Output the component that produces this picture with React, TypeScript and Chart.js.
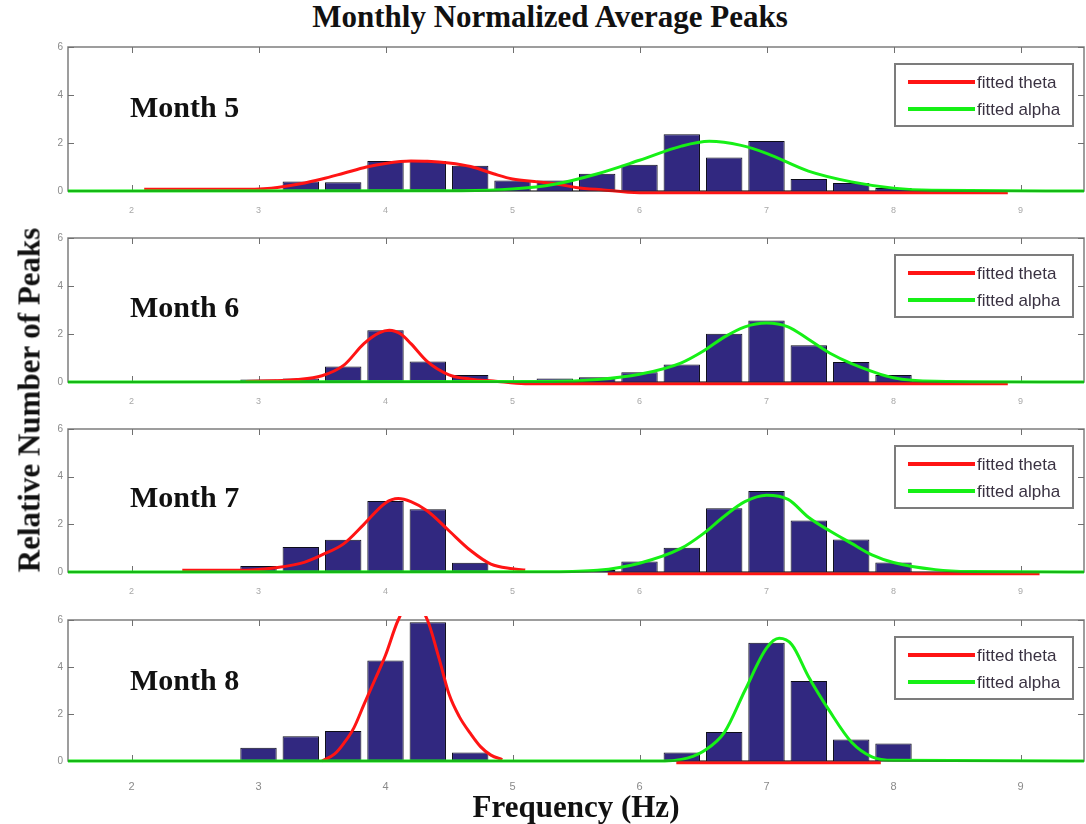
import React, { useEffect, useRef } from "react";
import { Chart, registerables } from "chart.js";

Chart.register(...registerables);

// ---------------- data ----------------
const binCenters = [3.0, 3.333, 3.667, 4.0, 4.333, 4.667, 5.0, 5.333, 5.667, 6.0, 6.333, 6.667, 7.0, 7.333, 7.667, 8.0];

const month5Bars = [0.05, 0.4, 0.36, 1.25, 1.25, 1.05, 0.44, 0.44, 0.72, 1.09, 2.36, 1.4, 2.08, 0.5, 0.33, 0.12];
const month6Bars = [0.1, 0.15, 0.65, 2.16, 0.85, 0.29, 0.05, 0.15, 0.2, 0.41, 0.73, 2.01, 2.56, 1.53, 0.83, 0.29];
const month7Bars = [0.25, 1.05, 1.35, 2.98, 2.63, 0.39, 0, 0, 0.08, 0.44, 1.02, 2.67, 3.4, 2.16, 1.36, 0.4];
const month8Bars = [0.56, 1.05, 1.28, 4.28, 5.9, 0.36, 0, 0, 0, 0, 0.36, 1.23, 5.03, 3.4, 0.91, 0.74];

const theta5X = [2.1, 2.8, 3.1, 3.33, 3.5, 3.67, 3.85, 4.0, 4.2, 4.33, 4.5, 4.67, 4.85, 5.0, 5.2, 5.37, 5.5, 5.7, 6.0, 7.0, 8.9];
const theta5Y = [0.07, 0.07, 0.12, 0.3, 0.5, 0.74, 1.0, 1.15, 1.25, 1.24, 1.17, 1.02, 0.72, 0.5, 0.38, 0.27, 0.15, 0.05, -0.07, -0.07, -0.07];
const alpha5X = [1.5, 4.6, 5.0, 5.33, 5.67, 6.0, 6.33, 6.55, 6.8, 7.0, 7.33, 7.67, 8.0, 8.3, 9.5];
const alpha5Y = [0, 0.01, 0.08, 0.28, 0.72, 1.28, 1.87, 2.07, 1.9, 1.57, 0.83, 0.38, 0.12, 0.03, 0];

const theta6X = [2.9, 3.3, 3.5, 3.67, 3.83, 3.95, 4.03, 4.12, 4.2, 4.33, 4.5, 4.67, 4.85, 5.1, 8.9];
const theta6Y = [0.02, 0.1, 0.26, 0.69, 1.6, 2.05, 2.16, 2.0, 1.6, 0.85, 0.3, 0.12, 0.04, -0.07, -0.07];
const alpha6X = [1.5, 5.3, 5.67, 6.0, 6.33, 6.5, 6.67, 6.83, 7.0, 7.17, 7.33, 7.5, 7.67, 8.0, 8.33, 9.5];
const alpha6Y = [0, 0.02, 0.1, 0.32, 0.8, 1.28, 1.88, 2.3, 2.46, 2.3, 1.78, 1.2, 0.77, 0.18, 0.03, 0];

const theta7X = [2.4, 2.9, 3.0, 3.33, 3.5, 3.67, 3.83, 4.0, 4.1, 4.2, 4.33, 4.5, 4.67, 4.83, 5.0, 5.1, 5.15, 5.75, 9.15];
const theta7Y = [0.07, 0.07, 0.1, 0.36, 0.72, 1.18, 2.0, 2.9, 3.08, 2.95, 2.56, 1.73, 0.9, 0.33, 0.14, 0.08, null, -0.07, -0.07];
const alpha7X = [1.5, 5.3, 5.67, 6.0, 6.33, 6.5, 6.67, 6.83, 7.0, 7.17, 7.33, 7.5, 7.67, 7.83, 8.0, 8.33, 8.6, 9.5];
const alpha7Y = [0, 0.01, 0.07, 0.37, 1.0, 1.6, 2.35, 2.95, 3.22, 3.05, 2.3, 1.72, 1.2, 0.72, 0.4, 0.1, 0.02, 0];

const theta8X = [3.5, 3.6, 3.67, 3.75, 3.83, 3.92, 4.0, 4.1, 4.21, 4.33, 4.42, 4.5, 4.58, 4.67, 4.75, 4.83, 4.92, 4.95, 6.29, 7.9];
const theta8Y = [0.0, 0.3, 0.74, 1.4, 2.4, 3.5, 4.5, 6.0, 6.9, 6.0, 4.4, 2.85, 1.9, 1.16, 0.6, 0.25, 0.06, null, -0.07, -0.07];
const alpha8X = [1.5, 6.2, 6.33, 6.42, 6.5, 6.67, 6.83, 7.0, 7.1, 7.2, 7.33, 7.5, 7.67, 7.83, 8.0, 9.5];
const alpha8Y = [0, 0, 0.07, 0.2, 0.4, 1.23, 3.0, 4.8, 5.22, 4.95, 3.6, 2.1, 0.8, 0.18, 0.03, 0];

const xTickValues = [2, 3, 4, 5, 6, 7, 8, 9];
const yTickValues = [0, 2, 4, 6];
const legendLabels = ["fitted theta", "fitted alpha"];
const monthLabels = ["Month 5", "Month 6", "Month 7", "Month 8"];
const chartTitle = "Monthly Normalized Average Peaks";
const xAxisTitle = "Frequency (Hz)";
const yAxisTitle = "Relative Number of Peaks";

// ---------------- layout / style ----------------
const panelTops = [46, 237, 428, 619];
const panelHeights = [145, 145, 144, 142];
const monthLabelTops = [92, 292, 482, 665];
const PAD_TOP = 10;
const X_AXIS_H = 36;
const Y_AXIS_W = 68;
const BAR_COLOR = "#312880";
const RED = "#ff1414";
const GREEN = "#16f016";
const SERIF = '"Liberation Serif", "Times New Roman", serif';
const SANS = '"Liberation Sans", Arial, sans-serif';

const panels = [
  { bars: month5Bars, tx: theta5X, ty: theta5Y, ax: alpha5X, ay: alpha5Y },
  { bars: month6Bars, tx: theta6X, ty: theta6Y, ax: alpha6X, ay: alpha6Y },
  { bars: month7Bars, tx: theta7X, ty: theta7Y, ax: alpha7X, ay: alpha7Y },
  { bars: month8Bars, tx: theta8X, ty: theta8Y, ax: alpha8X, ay: alpha8Y },
];

const toPoints = (xs: number[], ys: (number | null)[]) => xs.map((x, i) => ({ x, y: ys[i] }));

const matlabPlugin = {
  id: "matlabFrame",
  beforeDatasetsDraw(chart: any) {
    const { ctx, chartArea: a, scales } = chart;
    ctx.save();
    ctx.strokeStyle = "#7e7e7e";
    ctx.lineWidth = 1.5;
    ctx.strokeRect(a.left, a.top, a.right - a.left, a.bottom - a.top);
    ctx.strokeStyle = "#707070";
    ctx.lineWidth = 1;
    const seg = (x1: number, y1: number, x2: number, y2: number) => {
      ctx.beginPath();
      ctx.moveTo(x1, y1);
      ctx.lineTo(x2, y2);
      ctx.stroke();
    };
    scales.x.ticks.forEach((t: any) => {
      const px = Math.round(scales.x.getPixelForValue(t.value)) + 0.5;
      seg(px, a.bottom, px, a.bottom - 6);
      seg(px, a.top, px, a.top + 6);
    });
    scales.y.ticks.forEach((t: any) => {
      const py = Math.round(scales.y.getPixelForValue(t.value)) + 0.5;
      seg(a.left, py, a.left + 6, py);
      seg(a.right, py, a.right - 6, py);
    });
    ctx.restore();
  },
  afterDatasetsDraw(chart: any) {
    const { ctx, chartArea: a } = chart;
    // dark axis line over the baseline curves
    ctx.save();
    ctx.strokeStyle = "rgba(20,20,20,0.35)";
    ctx.lineWidth = 1.5;
    ctx.beginPath();
    ctx.moveTo(a.left, a.bottom);
    ctx.lineTo(a.right, a.bottom);
    ctx.stroke();
    ctx.restore();

    const w = 178;
    const h = 62;
    const x0 = a.right - 11 - w;
    const y0 = a.top + 17;
    ctx.save();
    ctx.fillStyle = "#ffffff";
    ctx.fillRect(x0, y0, w, h);
    ctx.strokeStyle = "#7c7c7c";
    ctx.lineWidth = 2;
    ctx.strokeRect(x0, y0, w, h);
    const items = chart.data.datasets.filter((d: any) => d.type === "line");
    items.forEach((d: any, i: number) => {
      const yy = y0 + 18 + i * 27;
      ctx.strokeStyle = d.borderColor;
      ctx.lineWidth = 4;
      ctx.beginPath();
      ctx.moveTo(x0 + 13, yy);
      ctx.lineTo(x0 + 80, yy);
      ctx.stroke();
      ctx.fillStyle = "#3a3242";
      ctx.font = `17px ${SANS}`;
      ctx.textBaseline = "middle";
      ctx.textAlign = "left";
      ctx.fillText(d.label, x0 + 82, yy + 1);
    });
    ctx.restore();
  },
};

function PanelChart({ index }: { index: number }) {
  const ref = useRef<HTMLCanvasElement>(null);
  const p = panels[index];
  const plotH = panelHeights[index];
  const canvasH = PAD_TOP + plotH + X_AXIS_H;
  const isLast = index === panels.length - 1;

  useEffect(() => {
    if (!ref.current) return;
    const chart = new Chart(ref.current, {
      type: "bar",
      data: {
        datasets: [
          {
            type: "bar",
            label: "peaks",
            data: binCenters.map((x, i) => ({ x, y: p.bars[i] })),
            backgroundColor: BAR_COLOR,
            borderColor: "#0c0c18",
            borderWidth: 1,
            barPercentage: 1,
            categoryPercentage: 0.86,
            order: 2,
          } as any,
          {
            type: "line",
            label: legendLabels[0],
            data: toPoints(p.tx, p.ty),
            borderColor: RED,
            borderWidth: 3,
            pointRadius: 0,
            cubicInterpolationMode: "monotone",
            spanGaps: false,
            clip: 4,
            order: 1,
          } as any,
          {
            type: "line",
            label: legendLabels[1],
            data: toPoints(p.ax, p.ay),
            borderColor: GREEN,
            borderWidth: 3,
            pointRadius: 0,
            cubicInterpolationMode: "monotone",
            clip: 4,
            order: 0,
          } as any,
        ],
      },
      options: {
        animation: false,
        responsive: false,
        devicePixelRatio: 1,
        layout: { padding: { top: PAD_TOP, right: 2, left: 0, bottom: 0 } },
        plugins: { legend: { display: false }, tooltip: { enabled: false } },
        scales: {
          x: {
            type: "linear",
            min: 1.5,
            max: 9.5,
            offset: false,
            grid: { display: false, drawTicks: false },
            border: { display: false },
            ticks: {
              autoSkip: false,
              maxRotation: 0,
              color: isLast ? "#8a8a8a" : "#a8a8a8",
              padding: isLast ? 19 : 14,
              font: { family: SANS, size: isLast ? 11 : 9 },
            },
            afterBuildTicks: (s: any) => {
              s.ticks = xTickValues.map((v) => ({ value: v }));
            },
            afterFit: (s: any) => {
              s.height = X_AXIS_H;
            },
          },
          y: {
            type: "linear",
            min: 0,
            max: 6,
            grid: { display: false, drawTicks: false },
            border: { display: false },
            ticks: { color: "#8a8a8a", padding: 5, font: { family: SANS, size: 10 } },
            afterBuildTicks: (s: any) => {
              s.ticks = yTickValues.map((v) => ({ value: v }));
            },
            afterFit: (s: any) => {
              s.width = Y_AXIS_W;
            },
          },
        },
      } as any,
      plugins: [matlabPlugin],
    });
    return () => chart.destroy();
  }, []);

  return (
    <canvas
      ref={ref}
      width={1086}
      height={canvasH}
      style={{
        position: "absolute",
        left: 0,
        top: panelTops[index] - PAD_TOP,
        width: 1086,
        height: canvasH,
        display: "block",
      }}
    />
  );
}

export default function App() {
  const bigText: React.CSSProperties = {
    position: "absolute",
    fontFamily: SERIF,
    fontWeight: "bold",
    color: "#111",
    whiteSpace: "nowrap",
    pointerEvents: "none",
  };
  return (
    <div
      style={{
        position: "absolute",
        left: 0,
        top: 0,
        width: 1086,
        height: 824,
        background: "#ffffff",
        overflow: "hidden",
      }}
    >
      {panels.map((_, i) => (
        <PanelChart key={i} index={i} />
      ))}
      <div style={{ ...bigText, left: 550, top: 1, fontSize: 31, lineHeight: "31px", transform: "translateX(-50%)" }}>
        {chartTitle}
      </div>
      <div
        style={{
          ...bigText,
          left: 29,
          top: 400,
          fontSize: 31,
          lineHeight: "31px",
          transform: "translate(-50%, -50%) rotate(-90deg)",
        }}
      >
        {yAxisTitle}
      </div>
      <div style={{ ...bigText, left: 576, top: 791, fontSize: 31, lineHeight: "31px", transform: "translateX(-50%)" }}>
        {xAxisTitle}
      </div>
      {monthLabels.map((m, i) => (
        <div key={m} style={{ ...bigText, left: 130, top: monthLabelTops[i], fontSize: 30, lineHeight: "30px" }}>
          {m}
        </div>
      ))}
    </div>
  );
}
